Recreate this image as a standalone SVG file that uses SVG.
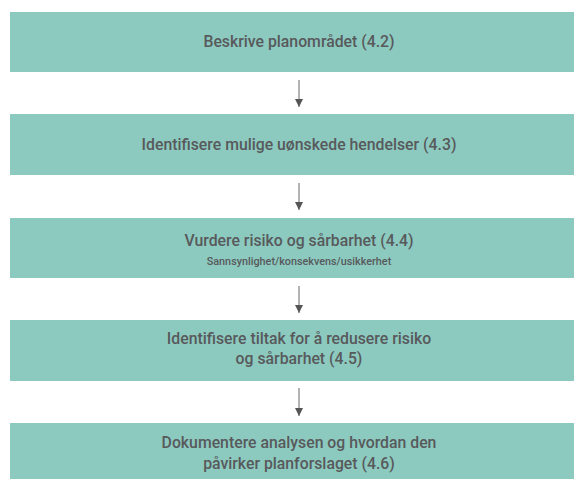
<svg xmlns="http://www.w3.org/2000/svg" width="574" height="479" viewBox="0 0 574 479">
<style>
.box{fill:#8ccac0;}
.t{font-family:Roboto,"Liberation Sans",sans-serif;font-weight:500;font-size:15.8px;fill:#58595b;text-anchor:middle;}
.s{font-family:Roboto,"Liberation Sans",sans-serif;font-weight:500;font-size:10.8px;fill:#58595b;text-anchor:middle;}
.c{stroke:#9a9a9a;stroke-width:1.5;fill:none;marker-end:url(#ah);}
</style>
<defs>
<marker id="ah" markerUnits="userSpaceOnUse" markerWidth="8" markerHeight="8" refX="8" refY="4" orient="auto" viewBox="0 0 8 8">
<path d="M0,0 L8,4 L0,8 Z" fill="#555555"/>
</marker>
</defs>
<rect width="574" height="479" fill="#ffffff"/>
<g id="n1"><rect class="box" x="10" y="12" width="600" height="60"/><text class="t" x="299" y="47">Beskrive planområdet (4.2)</text></g>
<g id="n2"><rect class="box" x="10" y="114" width="600" height="61"/><text class="t" x="299" y="150">Identifisere mulige uønskede hendelser (4.3)</text></g>
<g id="n3"><rect class="box" x="10" y="218" width="600" height="60"/><text class="t" x="299" y="246">Vurdere risiko og sårbarhet (4.4)</text><text class="s" x="299" y="265">Sannsynlighet/konsekvens/usikkerhet</text></g>
<g id="n4"><rect class="box" x="10" y="320" width="600" height="61"/><text class="t" x="299" y="344">Identifisere tiltak for å redusere risiko</text><text class="t" x="299" y="364">og sårbarhet (4.5)</text></g>
<g id="n5"><rect class="box" x="10" y="423" width="600" height="70"/><text class="t" x="299" y="448">Dokumentere analysen og hvordan den</text><text class="t" x="299" y="469">påvirker planforslaget (4.6)</text></g>
<g id="connectors">
<line class="c" x1="299" y1="80" x2="299" y2="107"/>
<line class="c" x1="299" y1="183" x2="299" y2="210"/>
<line class="c" x1="299" y1="286" x2="299" y2="313"/>
<line class="c" x1="299" y1="388" x2="299" y2="416"/>
</g>
</svg>
